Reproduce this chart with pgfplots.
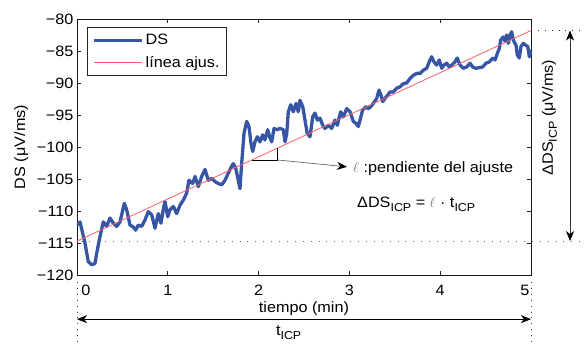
\documentclass[border=0pt]{standalone}
\usepackage{fontspec}
\setmainfont{Liberation Sans}[FakeStretch=1.08]
\usepackage{pgfplots}
\pgfplotsset{compat=1.18}
\usetikzlibrary{arrows.meta}
\definecolor{dsblue}{RGB}{55,85,165}
\definecolor{fitred}{RGB}{250,95,105}
\newcommand{\sub}[1]{\raisebox{-0.5ex}{\fontsize{11.5bp}{12bp}\selectfont #1}}
\pgfplotstableread{
x y
0.008 -112.2
0.033 -111.7
0.088 -115.0
0.124 -117.9
0.162 -118.4
0.198 -118.2
0.217 -116.6
0.253 -114.0
0.290 -111.7
0.327 -112.4
0.363 -111.1
0.400 -111.9
0.437 -112.4
0.474 -111.7
0.521 -108.8
0.547 -109.8
0.584 -112.2
0.620 -112.5
0.646 -113.0
0.675 -112.2
0.713 -112.4
0.749 -111.4
0.785 -110.1
0.823 -110.6
0.859 -112.7
0.895 -110.4
0.925 -111.9
0.950 -109.8
0.969 -108.5
0.999 -110.9
1.024 -109.8
1.061 -109.3
1.098 -110.4
1.134 -109.1
1.171 -108.3
1.208 -107.2
1.233 -105.2
1.274 -105.7
1.300 -104.6
1.336 -106.2
1.373 -104.6
1.410 -103.5
1.446 -105.2
1.483 -104.9
1.520 -105.4
1.556 -105.7
1.594 -105.9
1.630 -105.2
1.666 -104.1
1.693 -103.3
1.721 -102.6
1.748 -103.3
1.776 -105.2
1.795 -106.5
1.814 -102.5
1.839 -97.9
1.869 -96.0
1.894 -96.8
1.916 -99.4
1.935 -100.7
1.960 -99.2
1.986 -98.4
2.015 -99.2
2.045 -98.1
2.070 -98.9
2.100 -97.3
2.126 -98.6
2.144 -99.2
2.170 -97.1
2.199 -97.3
2.236 -97.1
2.272 -97.3
2.291 -99.2
2.310 -97.9
2.327 -94.5
2.354 -93.4
2.382 -94.5
2.412 -93.2
2.437 -94.5
2.456 -92.7
2.486 -93.7
2.511 -95.8
2.536 -97.9
2.566 -98.4
2.596 -95.3
2.621 -94.7
2.647 -95.8
2.676 -95.5
2.706 -96.6
2.731 -97.1
2.768 -96.6
2.805 -97.1
2.841 -95.8
2.867 -96.6
2.904 -94.5
2.933 -95.3
2.970 -94.0
3.007 -94.5
3.043 -96.0
3.073 -96.3
3.098 -96.8
3.117 -95.8
3.146 -94.2
3.183 -93.7
3.208 -94.0
3.235 -93.7
3.263 -93.2
3.301 -92.4
3.326 -91.1
3.348 -91.9
3.367 -92.9
3.392 -92.4
3.417 -92.0
3.447 -91.4
3.483 -91.4
3.521 -90.8
3.557 -90.6
3.594 -90.1
3.631 -90.0
3.667 -89.3
3.704 -88.8
3.741 -88.5
3.778 -88.5
3.814 -88.0
3.851 -87.7
3.888 -86.4
3.906 -85.9
3.932 -86.7
3.961 -87.2
3.990 -86.4
4.017 -87.7
4.042 -87.2
4.072 -86.9
4.100 -87.5
4.127 -87.2
4.163 -86.7
4.188 -86.1
4.218 -87.2
4.254 -87.7
4.292 -87.5
4.328 -86.9
4.358 -87.5
4.394 -87.7
4.431 -87.6
4.468 -87.5
4.504 -86.9
4.541 -86.7
4.578 -86.1
4.604 -86.4
4.629 -85.4
4.651 -84.6
4.666 -83.3
4.695 -82.8
4.714 -83.5
4.732 -82.5
4.750 -83.8
4.769 -82.5
4.787 -82.0
4.805 -83.3
4.835 -84.1
4.849 -85.6
4.871 -86.1
4.890 -84.3
4.915 -83.8
4.942 -84.1
4.964 -84.3
4.982 -85.9
4.998 -84.8
}\dsdata
\pgfplotstableread{
x y
0 -114.7
5 -81.8
}\fitdata
\begin{document}
\begin{tikzpicture}[font=\fontsize{15bp}{18bp}\selectfont]
\path[use as bounding box] (-77bp,-69bp) rectangle (507bp,275bp);
\begin{axis}[
  scale only axis, width=454bp, height=256bp,
  at={(0,0)}, anchor=south west,
  xmin=0, xmax=5, ymin=-120, ymax=-80,
  xtick={0,1,2,3,4,5},
  xticklabels={\hspace*{18bp}0,1,2,3,4,5\hspace*{12bp}},
  ytick={-120,-115,-110,-105,-100,-95,-90,-85,-80},
  yticklabels={−120,−115,−110,−105,−100,−95,−90,−85,−80},
  xticklabel style={anchor=base, yshift=-20bp},
  tick align=inside, major tick length=4bp,
  tick style={black!85, line width=0.6bp},
  axis line style={black!90, line width=0.9bp},
  clip=false,
  xlabel={tiempo (min)},
  xlabel style={at={(axis description cs:0.5,0)}, anchor=base, yshift=-37bp},
  ylabel={DS (μV/ms)},
  ylabel style={at={(axis description cs:-0.1145,0.5)}, anchor=base},
  legend style={at={(axis description cs:0.022,0.969)}, anchor=north west,
    draw=black!85, line width=0.8bp, inner xsep=5bp, inner ysep=5bp,
    row sep=6bp, font=\fontsize{15bp}{18bp}\selectfont},
  legend cell align=left,
  legend image code/.code={\draw[#1] (0bp,0bp) -- (48bp,0bp);},
]
\addplot[dsblue, line width=3.3bp, line join=round] table[x=x,y=y]{\dsdata};
\addlegendentry{DS}
\addplot[fitred, line width=0.8bp] table[x=x,y=y]{\fitdata};
\addlegendentry{línea ajus.}
% dotted reference lines
\draw[black!60, line width=0.9bp, dash pattern=on 0.9bp off 7bp] (axis cs:0.05,-114.7) -- (axis cs:5.58,-114.7);
\draw[black!80, line width=0.9bp, dash pattern=on 0.9bp off 6bp] (axis cs:5,-81.8) -- (axis cs:5.58,-81.8);
\draw[black!80, line width=0.9bp, dash pattern=on 0.9bp off 5bp] (axis cs:0,-121.1) -- (axis cs:0,-131);
\draw[black!80, line width=0.9bp, dash pattern=on 0.9bp off 5bp] (axis cs:5,-121.1) -- (axis cs:5,-131);
% vertical double arrow
\draw[black!80, line width=0.8bp, {Stealth[length=10bp,width=8bp,inset=3bp,color=black]}-{Stealth[length=10bp,width=8bp,inset=3bp,color=black]}] (axis cs:5.43,-81.8) -- (axis cs:5.43,-114.7);
\node[rotate=90, anchor=base] at (axis cs:5.242,-95.4) {ΔDS\sub{ICP} (μV/ms)};
% horizontal double arrow
\draw[black, line width=0.8bp, {Stealth[length=10bp,width=8bp,inset=3bp]}-{Stealth[length=10bp,width=8bp,inset=3bp]}] (axis cs:0,-126.9) -- (axis cs:5,-126.9);
\node[anchor=base west, inner sep=0pt] at (axis cs:2.19,-129.4) {t\sub{ICP}};
% slope triangle
\draw[black, line width=0.7bp] (axis cs:1.93,-102.03) -- (axis cs:2.21,-102.03) -- (axis cs:2.21,-100.2);
\draw[black!60, line width=0.7bp, -{Stealth[length=10bp,width=8bp,inset=3bp,color=black]}] (axis cs:2.21,-102.03) -- (axis cs:2.974,-103.1);
\node[anchor=base west, inner sep=0pt] at (axis cs:3.04,-104.0) {{\color{black!55}$\ell$} :pendiente del ajuste};
\node[anchor=base west, inner sep=0pt] at (axis cs:3.084,-109.5) {ΔDS\sub{ICP} = {\color{black!55}$\ell$} · t\sub{ICP}};
\end{axis}
\end{tikzpicture}
\end{document}
